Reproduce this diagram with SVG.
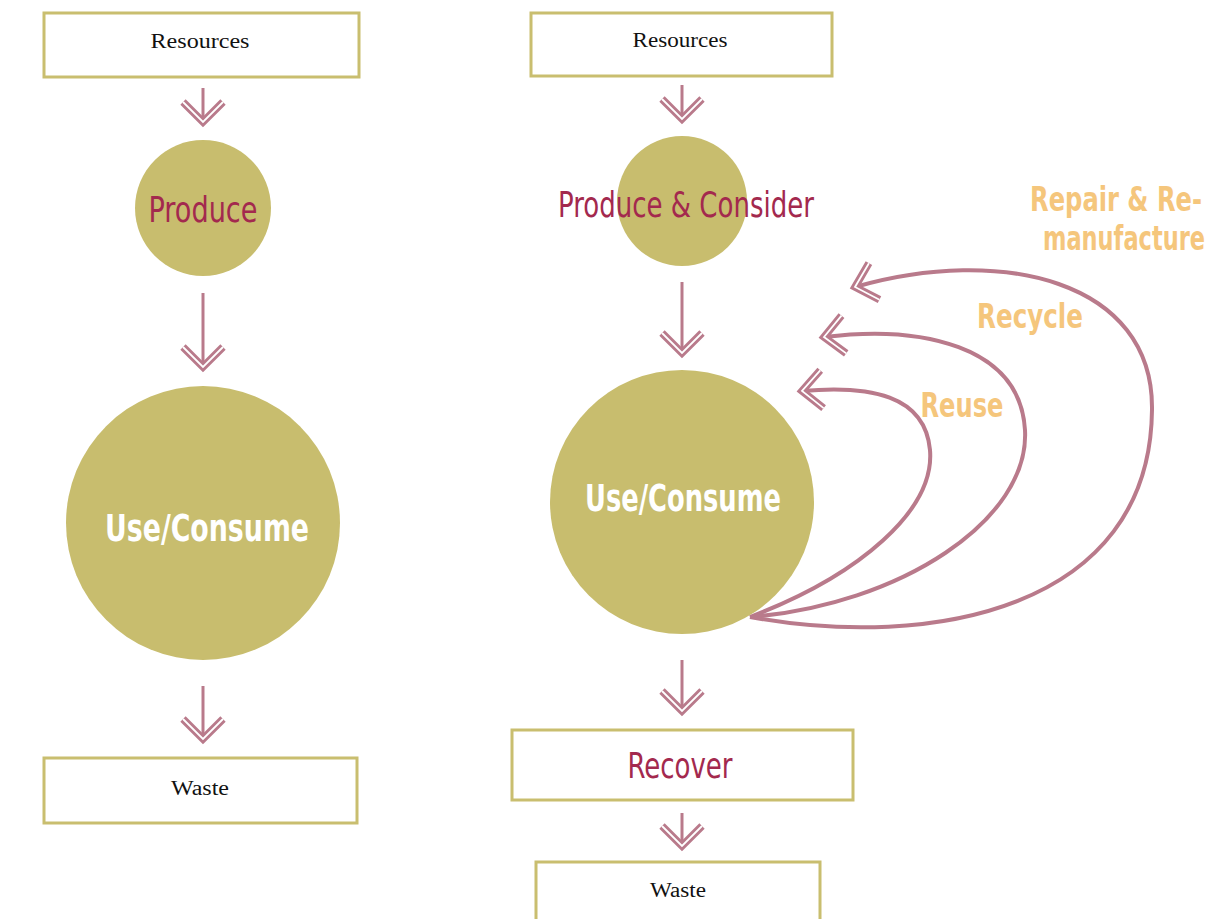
<svg xmlns="http://www.w3.org/2000/svg" width="1231" height="919" viewBox="0 0 1231 919">
<style>
.box{fill:#fff;stroke:#C9BE6F;stroke-width:3}
.circ{fill:#C8BD6E}
.serif{font-family:"Liberation Serif","DejaVu Serif",serif;font-size:20px;fill:#111;text-anchor:middle}
.cond{font-family:"Liberation Sans Narrow","DejaVu Sans Condensed","Noto Sans",sans-serif;font-stretch:condensed;text-anchor:middle}
.red{fill:#A3294E;font-size:36px}
.white{fill:#fff;font-size:38px;font-weight:bold}
.orange{fill:#F5C67C;font-size:34px;font-weight:bold}
.shaft{stroke:#B97A8B;stroke-width:3;fill:none}
.chev{stroke:#B97A8B;stroke-width:7.5;fill:none;stroke-linejoin:miter}
.chevin{stroke:#fff;stroke-width:1.8;fill:none;stroke-linejoin:miter}
.curve{stroke:#B97A8B;stroke-width:4;fill:none}
</style>
<defs>
<marker id="head" markerUnits="userSpaceOnUse" markerWidth="60" markerHeight="60" refX="0" refY="0" orient="auto" overflow="visible" viewBox="-30 -30 60 60">
<path d="M-20,-19 L0,0 L-20,19" class="chev"/>
<path d="M-20,-19 L0,0 L-20,19" class="chevin"/>
</marker>
</defs>

<g id="connectors">
<g id="arrow-l1">
<line class="shaft" x1="203" y1="88" x2="203" y2="120"/>
<path class="chev" d="M183,102 L203,122 L223,102"/>
<path class="chevin" d="M183,102 L203,122 L223,102"/>
</g>
<g id="arrow-l2">
<line class="shaft" x1="203" y1="293" x2="203" y2="365"/>
<path class="chev" d="M183,347 L203,367 L223,347"/>
<path class="chevin" d="M183,347 L203,367 L223,347"/>
</g>
<g id="arrow-l3">
<line class="shaft" x1="203" y1="686" x2="203" y2="737"/>
<path class="chev" d="M183,719 L203,739 L223,719"/>
<path class="chevin" d="M183,719 L203,739 L223,719"/>
</g>
<g id="arrow-r1">
<line class="shaft" x1="682" y1="85" x2="682" y2="117"/>
<path class="chev" d="M662,99 L682,119 L702,99"/>
<path class="chevin" d="M662,99 L682,119 L702,99"/>
</g>
<g id="arrow-r2">
<line class="shaft" x1="682" y1="282" x2="682" y2="351"/>
<path class="chev" d="M662,333 L682,353 L702,333"/>
<path class="chevin" d="M662,333 L682,353 L702,333"/>
</g>
<g id="arrow-r3">
<line class="shaft" x1="682" y1="660" x2="682" y2="709"/>
<path class="chev" d="M662,691 L682,711 L702,691"/>
<path class="chevin" d="M662,691 L682,711 L702,691"/>
</g>
<g id="arrow-r4">
<line class="shaft" x1="682" y1="813" x2="682" y2="844"/>
<path class="chev" d="M662,826 L682,846 L702,826"/>
<path class="chevin" d="M662,826 L682,846 L702,826"/>
</g>
<path id="reuse-curve" class="curve" marker-end="url(#head)" d="M750,617 C860,575 935,510 930,450 C925,395 870,385 802,391"/>
<path id="recycle-curve" class="curve" marker-end="url(#head)" d="M750,617 C900,605 1030,520 1025,430 C1020,345 920,325 824,337"/>
<path id="repair-curve" class="curve" marker-end="url(#head)" d="M750,617 C930,650 1150,610 1152,410 C1154,280 1000,245 855,287"/>
</g>

<g id="resources-left">
<rect class="box" x="44" y="13" width="315" height="64"/>
<text class="serif" x="200" y="48" textLength="99" lengthAdjust="spacingAndGlyphs">Resources</text>
</g>
<g id="produce-left">
<circle class="circ" cx="203" cy="208" r="68"/>
<text class="cond red" x="203" y="222" textLength="109" lengthAdjust="spacingAndGlyphs">Produce</text>
</g>
<g id="use-left">
<circle class="circ" cx="203" cy="523" r="137"/>
<text class="cond white" x="207" y="541" textLength="204" lengthAdjust="spacingAndGlyphs">Use/Consume</text>
</g>
<g id="waste-left">
<rect class="box" x="44" y="758" width="313" height="65"/>
<text class="serif" x="200" y="795" textLength="58" lengthAdjust="spacingAndGlyphs">Waste</text>
</g>

<g id="resources-right">
<rect class="box" x="531" y="13" width="301" height="63"/>
<text class="serif" x="680" y="47" textLength="95" lengthAdjust="spacingAndGlyphs">Resources</text>
</g>
<g id="produce-right">
<circle class="circ" cx="682" cy="201" r="65"/>
<text class="cond red" x="686" y="217" textLength="256" lengthAdjust="spacingAndGlyphs">Produce &amp; Consider</text>
</g>
<g id="use-right">
<circle class="circ" cx="682" cy="502" r="132"/>
<text class="cond white" x="683" y="511" textLength="196" lengthAdjust="spacingAndGlyphs">Use/Consume</text>
</g>
<g id="recover">
<rect class="box" x="512" y="730" width="341" height="70"/>
<text class="cond red" x="680" y="778" textLength="105" lengthAdjust="spacingAndGlyphs">Recover</text>
</g>
<g id="waste-right">
<rect class="box" x="536" y="862" width="284" height="62"/>
<text class="serif" x="678" y="897" textLength="56" lengthAdjust="spacingAndGlyphs">Waste</text>
</g>

<g id="labels">
<text class="cond orange" x="962" y="417" textLength="83" lengthAdjust="spacingAndGlyphs">Reuse</text>
<text class="cond orange" x="1030" y="328" textLength="106" lengthAdjust="spacingAndGlyphs">Recycle</text>
<text class="cond orange" x="1116" y="211" textLength="172" lengthAdjust="spacingAndGlyphs">Repair &amp; Re-</text>
<text class="cond orange" x="1124" y="250" textLength="162" lengthAdjust="spacingAndGlyphs">manufacture</text>
</g>
</svg>
